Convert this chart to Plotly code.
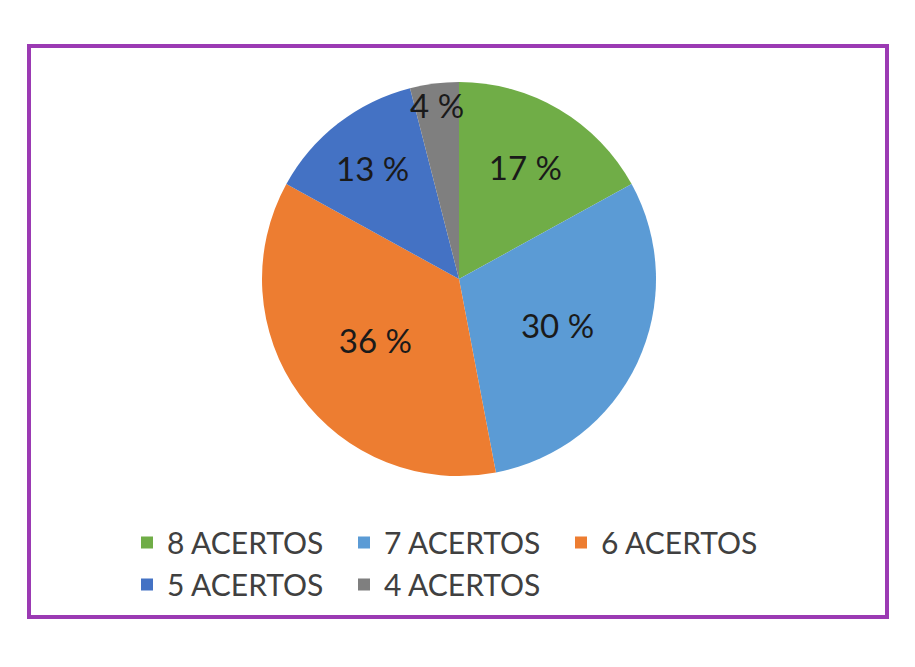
import plotly.graph_objects as go

categorias = ["8 ACERTOS", "7 ACERTOS", "6 ACERTOS", "5 ACERTOS", "4 ACERTOS"]
percentuais = [17, 30, 36, 13, 4]
cores = ["#70AD47", "#5B9BD5", "#ED7D31", "#4472C4", "#7F7F7F"]

fonte = "Lato, Open Sans, sans-serif"
LARG = 915
ALT = 667
MARG_D = 100            # margem direita: força a legenda a quebrar em 3 + 2
AREA = LARG - MARG_D    # largura da área de plotagem

pie = go.Pie(labels=categorias,
             values=percentuais,
             sort=False,
             direction="clockwise",
             rotation=0,
             marker=dict(colors=cores, line=dict(width=0)),
             texttemplate="%{value} %",
             textposition="inside",
             insidetextorientation="horizontal",
             insidetextfont=dict(family=fonte, size=33, color="#1a1a1a"),
             hoverinfo="label+percent",
             domain=dict(x=[451/AREA - 0.3, 451/AREA + 0.3],
                         y=[1 - 468/ALT, 1 - 74/ALT]))

fig = go.Figure(data=[pie])

# moldura roxa em volta do gráfico
shapes = [dict(type="rect", xref="paper", yref="paper",
               x0=21/AREA, x1=879/AREA, y0=1 - 609/ALT, y1=1 - 38/ALT,
               line=dict(color="#9B3AB3", width=4))]

fig.update_layout(
    width=LARG, height=ALT,
    margin=dict(l=0, r=MARG_D, t=0, b=0, autoexpand=False),
    paper_bgcolor="white",
    shapes=shapes,
    uniformtext=dict(minsize=33, mode="show"),
    legend=dict(orientation="h", x=119/AREA, y=0.2376, xanchor="left", yanchor="top",
                entrywidth=172, entrywidthmode="pixels",
                font=dict(family=fonte, size=30, color="#404040"),
                traceorder="normal"),
)

fig.write_html("out.html")
